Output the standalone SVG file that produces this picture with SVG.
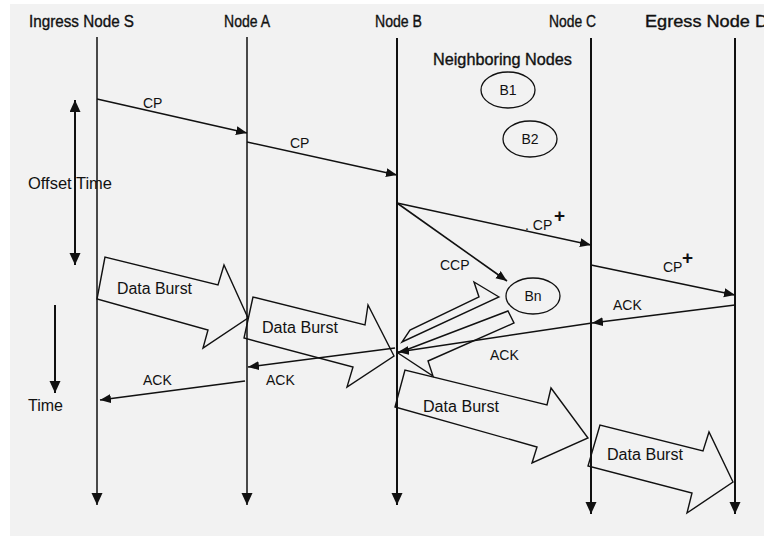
<svg xmlns="http://www.w3.org/2000/svg" width="764" height="536" viewBox="0 0 764 536">
  <defs>
    <marker id="ah" markerUnits="userSpaceOnUse" markerWidth="12" markerHeight="10" refX="11" refY="4.5" orient="auto">
      <path d="M0,0 L11,4.5 L0,9 z" fill="#111"/>
    </marker>
    <marker id="lh" markerUnits="userSpaceOnUse" markerWidth="13" markerHeight="12" refX="12" refY="5.5" orient="auto-start-reverse">
      <path d="M0,0 L12,5.5 L0,11 z" fill="#111"/>
    </marker>
    <style>
      text { font-family: "Liberation Sans", Arial, sans-serif; fill: #111; }
      .hdr { font-size: 16px; }
      .ttl { stroke: #111; stroke-width: 0.35; }
      .lbl { font-size: 14px; }
      .sup { font-size: 19px; font-weight: bold; }
      .life { stroke: #111; stroke-width: 2; fill: none; marker-end: url(#lh); }
      .thin { stroke-width: 1.5; }
      .msg { stroke: #111; stroke-width: 1.6; fill: none; marker-end: url(#ah); }
      .burst { fill: none; stroke: #111; stroke-width: 1.4; stroke-linejoin: miter; }
      .nb { fill: none; stroke: #111; stroke-width: 1.3; }
      .axis { stroke: #111; stroke-width: 2; fill: none; }
    </style>
  </defs>

  <!-- canvas -->
  <rect x="0" y="0" width="764" height="536" fill="#ffffff"/>
  <rect x="10" y="4" width="754" height="532" fill="#f2f2f2"/>

  <!-- nodes: titles and lifelines -->
  <g id="node-s">
    <text class="hdr ttl" x="29" y="27" textLength="105" lengthAdjust="spacingAndGlyphs">Ingress Node S</text>
    <line class="life thin" x1="97" y1="37" x2="97" y2="505"/>
  </g>
  <g id="node-a">
    <text class="hdr ttl" x="224" y="27" textLength="46" lengthAdjust="spacingAndGlyphs">Node A</text>
    <line class="life thin" x1="247" y1="37" x2="247" y2="505"/>
  </g>
  <g id="node-b">
    <text class="hdr ttl" x="375" y="27" textLength="47" lengthAdjust="spacingAndGlyphs">Node B</text>
    <line class="life" x1="397" y1="38" x2="397" y2="505"/>
  </g>
  <g id="node-c">
    <text class="hdr ttl" x="549" y="27" textLength="47" lengthAdjust="spacingAndGlyphs">Node C</text>
    <line class="life" x1="591" y1="38" x2="591" y2="514"/>
  </g>
  <g id="node-d">
    <text class="hdr ttl" x="645" y="27" textLength="123" lengthAdjust="spacingAndGlyphs">Egress Node D</text>
    <line class="life" x1="735" y1="38" x2="735" y2="514"/>
  </g>

  <!-- neighbouring nodes of B -->
  <g id="neighbors">
    <text class="hdr ttl" x="433" y="65" textLength="139" lengthAdjust="spacingAndGlyphs">Neighboring Nodes</text>
  </g>
  <g id="node-b1">
    <ellipse class="nb" cx="508" cy="90" rx="27" ry="18"/>
    <text class="lbl" x="508" y="95" text-anchor="middle" font-size="13">B1</text>
  </g>
  <g id="node-b2">
    <ellipse class="nb" cx="530" cy="139" rx="27" ry="18"/>
    <text class="lbl" x="530" y="144" text-anchor="middle" font-size="13">B2</text>
  </g>
  <g id="node-bn">
    <ellipse class="nb" cx="533" cy="296" rx="27" ry="18"/>
    <text class="lbl" x="533" y="301" text-anchor="middle">Bn</text>
  </g>

  <!-- time axes -->
  <g id="offset-time">
    <line class="axis" x1="75" y1="100" x2="75" y2="265" marker-start="url(#lh)" marker-end="url(#lh)"/>
    <text class="hdr" x="28" y="189" textLength="84" lengthAdjust="spacingAndGlyphs">Offset Time</text>
  </g>
  <g id="time-axis">
    <line class="axis" x1="55" y1="305" x2="55" y2="393" stroke-width="1.5" marker-end="url(#lh)"/>
    <text class="hdr" x="28" y="411" textLength="35" lengthAdjust="spacingAndGlyphs">Time</text>
  </g>

  <!-- control packets and acknowledgements -->
  <g id="connectors">
    <line class="msg" x1="97" y1="99" x2="247" y2="133"/>
    <line class="msg" x1="247" y1="142" x2="397" y2="175"/>
    <line class="msg" x1="397" y1="203" x2="591" y2="245"/>
    <line class="msg" x1="397" y1="203" x2="507" y2="281"/>
    <line class="msg" x1="591" y1="265" x2="735" y2="295"/>
    <line class="msg" x1="735" y1="305" x2="592" y2="323"/>
    <line class="msg" x1="592" y1="323" x2="398" y2="352"/>
    <line class="msg" x1="395" y1="348" x2="248" y2="367"/>
    <line class="msg" x1="245" y1="381" x2="100" y2="400"/>

    <!-- reservation bursts exchanged between B and Bn -->
    <polygon class="burst" points="499,297 474,282 479,297 410,330 402,342"/>
    <polygon class="burst" points="508,311 514,323 428,361 433,376 398,353"/>

    <!-- data bursts -->
    <polygon class="burst" points="105,257 97,299 208,330 203,348 248,318 224,265 218,285"/>
    <polygon class="burst" points="253,297 244,338 353,367 347,387 394,356 368,305 365,325"/>
    <polygon class="burst" points="405,370 395,407 537,447 532,463 588,438 551,388 547,405"/>
    <polygon class="burst" points="600,425 588,466 692,493 687,513 733,482 709,432 703,451"/>
  </g>

  <!-- labels -->
  <g id="labels">
    <text class="lbl" x="143" y="108">CP</text>
    <text class="lbl" x="290" y="148">CP</text>
    <text class="lbl" x="525" y="230">. CP</text>
    <text class="sup" x="554" y="222">+</text>
    <text class="lbl" x="663" y="272">CP</text>
    <text class="sup" x="682" y="264">+</text>
    <text class="lbl" x="440" y="270" font-size="13">CCP</text>
    <text class="lbl" x="613" y="310">ACK</text>
    <text class="lbl" x="490" y="360">ACK</text>
    <text class="lbl" x="266" y="385">ACK</text>
    <text class="lbl" x="143" y="385">ACK</text>
    <text class="hdr" x="117" y="294" textLength="75" lengthAdjust="spacingAndGlyphs">Data Burst</text>
    <text class="hdr" x="262" y="333" textLength="76" lengthAdjust="spacingAndGlyphs">Data Burst</text>
    <text class="hdr" x="423" y="412" textLength="76" lengthAdjust="spacingAndGlyphs">Data Burst</text>
    <text class="hdr" x="607" y="460" textLength="76" lengthAdjust="spacingAndGlyphs">Data Burst</text>
  </g>
</svg>
